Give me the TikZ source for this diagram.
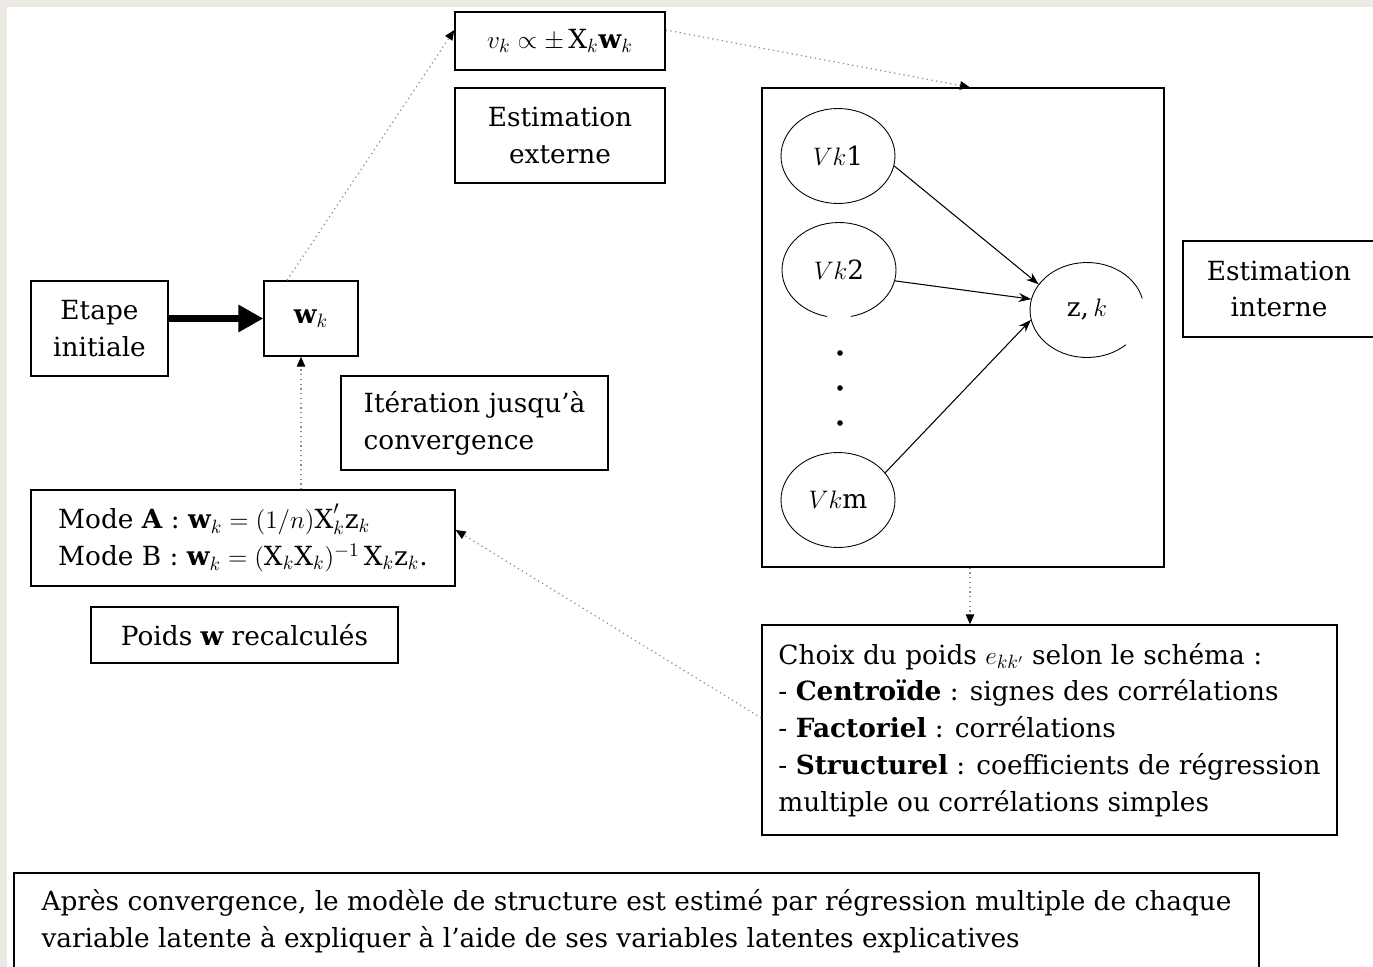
\documentclass[tikz,border=0pt]{standalone}
\usepackage{fontspec}
\setmainfont{DejaVu Serif}
\usepackage{tikz}
\usetikzlibrary{arrows.meta,positioning,shapes.geometric}
\usepackage{xcolor}
\definecolor{pagegrey}{HTML}{ECE8E4}
\definecolor{dotgrey}{HTML}{8C8C8C}

\begin{document}
\begin{tikzpicture}[x=0.02cm, y=-0.02cm, every node/.style={font=\fontsize{15}{21}\selectfont},
  textbox/.style={rectangle, draw, line width=0.8pt, inner sep=0pt, align=left},
  latent/.style={ellipse, minimum width=2.28cm, minimum height=1.9cm, inner sep=0pt},
  flow/.style={dotgrey, dotted, line width=0.7pt, -{Triangle[length=0.2cm, width=0.17cm, black]}},
  link/.style={line width=0.6pt, -{Stealth[length=0.25cm, width=0.18cm]}}]
\useasboundingbox (0,0) rectangle (1373,967);
\fill[pagegrey] (0,0) rectangle (1373,967);
\fill[white] (7,7) rectangle (1373,967);
\node[textbox, minimum width=4.2cm, minimum height=1.16cm] (vkbox) at (560,41) {$v_k \propto \pm\,\mathrm{X}_k\mathbf{w}_k$};
\node[textbox, align=center, minimum width=4.2cm, minimum height=1.9cm] (extbox) at (560,135.5) {Estimation\\externe};
\node[textbox, minimum width=8.04cm, minimum height=9.58cm] (inner) at (963,327.5) {};
\node[textbox, align=center, minimum width=3.84cm, minimum height=1.92cm] (intbox) at (1279,289) {Estimation\\interne};
\node[textbox, align=center, minimum width=2.74cm, minimum height=1.9cm] (etape) at (99.5,328.5) {Etape\\initiale};
\node[textbox, minimum width=1.88cm, minimum height=1.5cm] (wk) at (311,318.5) {$\mathbf{w}_k$};
\node[textbox, minimum width=5.34cm, minimum height=1.88cm] (iter) at (474.5,423) {Itération jusqu'à\\convergence};
\node[textbox, minimum width=8.48cm, minimum height=1.92cm] (mode) at (243,538) {Mode \textbf{A} : $\mathbf{w}_k = (1/n)\mathrm{X}_k'\mathrm{z}_k$\\Mode B : $\mathbf{w}_k = (\mathrm{X}_k\mathrm{X}_k)^{-1}\,\mathrm{X}_k\mathrm{z}_k$.};
\node[textbox, align=center, minimum width=6.14cm, minimum height=1.12cm] (poids) at (244.5,635) {Poids $\mathbf{w}$ recalculés};
\node[textbox, minimum width=11.5cm, minimum height=4.2cm] (choix) at (1049.5,730) {Choix du poids $e_{kk'}$ selon le schéma :\\- \textbf{Centroïde} : signes des corrélations\\- \textbf{Factoriel} : corrélations\\- \textbf{Structurel} : coefficients de régression\\multiple ou corrélations simples};
\node[textbox, minimum width=24.9cm, minimum height=1.92cm] (apres) at (636.5,921) {Après convergence, le modèle de structure est estimé par régression multiple de chaque\\variable latente à expliquer à l'aide de ses variables latentes explicatives};
\node[latent, draw, line width=0.5pt] (vkone) at (838,156) {$Vk$1};
\node[latent] (vktwo) at (839,270) {$Vk$2};
\draw[line width=0.5pt] ([shift={(-78:1.14cm and 0.95cm)}]vktwo.center) arc[start angle=-78, end angle=258, x radius=1.14cm, y radius=0.95cm];
\node[latent, draw, line width=0.5pt] (vkm) at (838,500) {$Vk$m};
\node[latent] (zk) at (1087,310) {z,\,$k$};
\draw[line width=0.5pt] ([shift={(14:1.14cm and 0.95cm)}]zk.center) arc[start angle=14, end angle=313, x radius=1.14cm, y radius=0.95cm];
\foreach \y in {353,388,423} \fill (840,\y) circle (1.6pt);
\draw[link] (vkone.-10) -- (zk.152);
\draw[link] (vktwo.-11) -- (zk.169);
\draw[link] (vkm.30) -- (zk.190);
\draw[line width=4.5pt, -{Triangle[length=0.5cm, width=0.52cm]}] (etape.east |- wk.west) -- (wk.west);
\path ([xshift=-0.2cm]wk.south) coordinate (wkin);
\path ([xshift=0.14cm]inner.south) coordinate (innerout);
\draw[flow] ([xshift=-0.48cm]wk.north) -- ([yshift=0.22cm]vkbox.west);
\draw[flow] ([yshift=0.22cm]vkbox.east) -- ([xshift=0.14cm]inner.north);
\draw[flow] (innerout) -- (innerout |- choix.north);
\draw[flow] ([yshift=0.24cm]choix.west) -- ([yshift=0.16cm]mode.east);
\draw[flow] (wkin |- mode.north) -- (wkin);
\end{tikzpicture}
\end{document}
